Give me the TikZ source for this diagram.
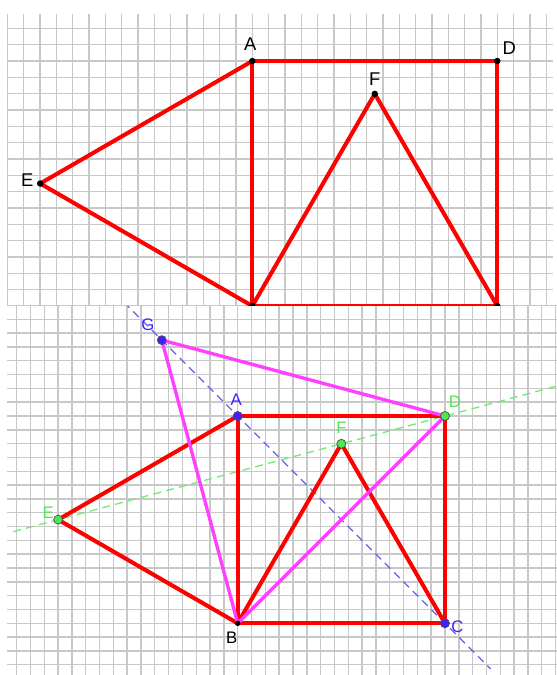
\documentclass[tikz,border=0pt]{standalone}
\usepackage{fontspec}
\setmainfont{Liberation Sans}
\usepackage{tikz}
\usetikzlibrary{calc}

\definecolor{gridgray}{RGB}{200,200,200}
\definecolor{segred}{RGB}{255,0,0}
\definecolor{segpink}{RGB}{255,64,255}
\definecolor{ptblue}{RGB}{64,32,255}
\definecolor{ptgreen}{RGB}{80,230,80}
\definecolor{lineblue}{RGB}{100,100,230}
\definecolor{linegreen}{RGB}{115,235,115}

\begin{document}
\begin{tikzpicture}[
        % grid paper and segments
        gridline/.style={draw=gridgray, line width=0.8pt},
        seg/.style={draw=segred, line width=2.3pt, line join=round},
        pinkseg/.style={draw=segpink, line width=1.9pt, line join=round},
        % dashed helper lines
        blueaxis/.style={draw=lineblue, line width=0.75pt, dash pattern=on 4.5pt off 3pt},
        greenaxis/.style={draw=linegreen, line width=0.75pt, dash pattern=on 4.5pt off 3pt},
        % points
        dot/.style={circle, fill=black, minimum size=0.13cm, inner sep=0pt},
        smalldot/.style={circle, fill=black, minimum size=0.11cm, inner sep=0pt},
        bluedot/.style={circle, fill=ptblue, draw=black!70, line width=0.4pt, minimum size=0.18cm, inner sep=0pt},
        greendot/.style={circle, fill=ptgreen, draw=black!70, line width=0.4pt, minimum size=0.18cm, inner sep=0pt},
        % labels
        biglabel/.style={font=\fontsize{10.5}{12}\selectfont, inner sep=0pt},
        smalllabel/.style={font=\fontsize{9.5}{11}\selectfont, inner sep=0pt}
    ]

    \useasboundingbox (0,0) rectangle (11.14,13.5);
    \fill[white] (0,0) rectangle (11.14,13.5);

    % ==========================================
    % LOWER FIGURE (with G)
    % ==========================================
    \begin{scope}[shift={(4.754,1.034)}, x=0.2764cm, y=0.2764cm]
        \clip (-16.69,-3.74) rectangle (23.1,22.96);
        \foreach \i in {-16,...,23}
            \draw[gridline] (\i,-3.74) -- (\i,22.96);
        \foreach \j in {-3,...,23}
            \draw[gridline] (-16.69,\j) -- (23.1,\j);

        % Points
        \coordinate (p2_A) at (0,15);
        \coordinate (p2_B) at (0,0);
        \coordinate (p2_C) at (15,0);
        \coordinate (p2_D) at (15,15);
        \coordinate (p2_E) at (-12.99,7.5);
        \coordinate (p2_F) at (7.5,12.99);
        \coordinate (p2_G) at (-5.49,20.49);

        % Ends of the dashed lines
        \coordinate (p2_m1) at ($(p2_E)!-0.116!(p2_D)$);
        \coordinate (p2_m2) at ($(p2_E)!1.4!(p2_D)$);
        \coordinate (p2_n1) at ($(p2_G)!-0.2!(p2_C)$);
        \coordinate (p2_n2) at ($(p2_G)!1.161!(p2_C)$);

        \draw[greenaxis] (p2_m1) -- (p2_m2);
        \draw[blueaxis] (p2_n1) -- (p2_n2);

        % Square, two triangles
        \draw[seg] (p2_A) -- (p2_D) -- (p2_C) -- (p2_B) -- cycle;
        \draw[seg] (p2_A) -- (p2_E) -- (p2_B);
        \draw[seg] (p2_B) -- (p2_F) -- (p2_C);

        % Triangle G B D
        \draw[pinkseg] (p2_G) -- (p2_D) -- (p2_B) -- cycle;

        \node[bluedot] (dot2_A) at (p2_A) {};
        \node[smalldot] (dot2_B) at (p2_B) {};
        \node[bluedot] (dot2_C) at (p2_C) {};
        \node[greendot] (dot2_D) at (p2_D) {};
        \node[greendot] (dot2_E) at (p2_E) {};
        \node[greendot] (dot2_F) at (p2_F) {};
        \node[bluedot] (dot2_G) at (p2_G) {};

        % Labels
        \node[smalllabel, text=ptblue] (label2_A) at ([xshift=-0.03cm, yshift=0.33cm]p2_A) {A};
        \node[smalllabel] (label2_B) at ([xshift=-0.12cm, yshift=-0.28cm]p2_B) {B};
        \node[smalllabel, text=ptblue] (label2_C) at ([xshift=0.25cm, yshift=-0.07cm]p2_C) {C};
        \node[smalllabel, text=ptgreen] (label2_D) at ([xshift=0.20cm, yshift=0.29cm]p2_D) {D};
        \node[smalllabel, text=ptgreen] (label2_E) at ([xshift=-0.20cm, yshift=0.14cm]p2_E) {E};
        \node[smalllabel, text=ptgreen] (label2_F) at ([yshift=0.33cm]p2_F) {F};
        \node[smalllabel, text=ptblue] (label2_G) at ([xshift=-0.28cm, yshift=0.30cm]p2_G) {G};
    \end{scope}

    % ==========================================
    % UPPER FIGURE
    % ==========================================
    \begin{scope}[shift={(5.046,7.38)}, x=0.3266cm, y=0.3266cm]
        \clip (-15.05,0.06) rectangle (18.41,17.88);
        \foreach \i in {-15,...,18}
            \draw[gridline] (\i,0) -- (\i,17.88);
        \foreach \j in {0,...,17}
            \draw[gridline] (-15.05,\j) -- (18.41,\j);

        % Points
        \coordinate (p1_A) at (0,15);
        \coordinate (p1_B) at (0,0);
        \coordinate (p1_C) at (15,0);
        \coordinate (p1_D) at (15,15);
        \coordinate (p1_E) at (-12.99,7.5);
        \coordinate (p1_F) at (7.5,12.99);

        \draw[seg] (p1_A) -- (p1_D) -- (p1_C) -- (p1_B) -- cycle;
        \draw[seg] (p1_A) -- (p1_E) -- (p1_B);
        \draw[seg] (p1_B) -- (p1_F) -- (p1_C);

        \node[dot] (dot1_A) at (p1_A) {};
        \node[dot] (dot1_B) at (p1_B) {};
        \node[dot] (dot1_C) at (p1_C) {};
        \node[dot] (dot1_D) at (p1_D) {};
        \node[dot] (dot1_E) at (p1_E) {};
        \node[dot] (dot1_F) at (p1_F) {};

        % Labels
        \node[biglabel] (label1_A) at ([xshift=-0.04cm, yshift=0.33cm]p1_A) {A};
        \node[biglabel] (label1_D) at ([xshift=0.24cm, yshift=0.25cm]p1_D) {D};
        \node[biglabel] (label1_E) at ([xshift=-0.26cm, yshift=0.06cm]p1_E) {E};
        \node[biglabel] (label1_F) at ([yshift=0.30cm]p1_F) {F};
    \end{scope}

\end{tikzpicture}
\end{document}
